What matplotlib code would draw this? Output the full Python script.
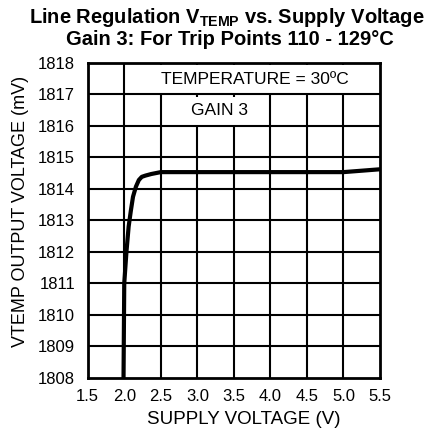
import matplotlib
matplotlib.use("Agg")
import matplotlib.pyplot as plt
from matplotlib.patches import Rectangle

plt.rcParams["font.family"] = ["Liberation Sans", "DejaVu Sans"]
plt.rcParams["mathtext.fontset"] = "custom"
plt.rcParams["mathtext.rm"] = "Liberation Sans"
plt.rcParams["mathtext.bf"] = "Liberation Sans:bold"

# curve
supply_v = [1.99, 2.00, 2.03, 2.06, 2.09, 2.12, 2.16, 2.20, 2.24, 2.29, 2.37,
            2.50, 3.00, 4.00, 5.00, 5.50]
vtemp_mv = [1808.0, 1811.0, 1812.0, 1812.8, 1813.3, 1813.75, 1814.07, 1814.28,
            1814.38, 1814.42, 1814.47, 1814.53, 1814.53, 1814.53, 1814.53, 1814.62]

x_ticks = [1.5, 2.0, 2.5, 3.0, 3.5, 4.0, 4.5, 5.0, 5.5]
y_ticks = list(range(1808, 1819))

fig = plt.figure(figsize=(4.39, 4.29), dpi=100)
ax = fig.add_axes([0.1998, 0.1189, 0.6658, 0.7349])

ax.set_xlim(1.5, 5.5)
ax.set_ylim(1808, 1818)
ax.set_xticks(x_ticks)
ax.set_xticklabels([f"{v:.1f}" for v in x_ticks])
ax.set_yticks(y_ticks)
ax.tick_params(axis="x", length=0, pad=8, labelsize=12)
ax.tick_params(axis="y", length=0, pad=9, labelsize=12)

for v in x_ticks[1:-1]:
    ax.axvline(v, color="black", lw=1.5, zorder=1)
for v in y_ticks[1:-1]:
    ax.axhline(v, color="black", lw=1.5, zorder=3)

# white label boxes hide the vertical grid lines
ax.add_patch(Rectangle((2.4, 1817.05), 2.95, 0.88, facecolor="white",
                       edgecolor="none", zorder=2))
ax.add_patch(Rectangle((2.8, 1816.02), 1.0, 0.88, facecolor="white",
                       edgecolor="none", zorder=2))
ax.text(3.79, 1817.48, "TEMPERATURE = 30ºC", ha="center", va="center",
        fontsize=12.5, zorder=4)
ax.text(3.3, 1816.5, "GAIN 3", ha="center", va="center", fontsize=12.5, zorder=4)

ax.plot(supply_v, vtemp_mv, color="black", lw=3, zorder=5,
        solid_joinstyle="round", solid_capstyle="butt")

for s in ax.spines.values():
    s.set_linewidth(2)
    s.set_zorder(6)

fig.text(0.555, 0.022, "SUPPLY VOLTAGE (V)", ha="center", va="center",
         fontsize=13.5)
fig.text(0.046, 0.507, "VTEMP OUTPUT VOLTAGE (mV)", rotation=90, ha="center",
         va="center", fontsize=13)

fig.text(0.517, 0.947, r"Line Regulation V$_{\mathbf{TEMP}}$ vs. Supply Voltage",
         ha="center", va="baseline", fontsize=14.5, fontweight="bold")
fig.text(0.524, 0.896, "Gain 3: For Trip Points 110 - 129°C",
         ha="center", va="baseline", fontsize=14.5, fontweight="bold")

fig.savefig("out.png", dpi=100)
